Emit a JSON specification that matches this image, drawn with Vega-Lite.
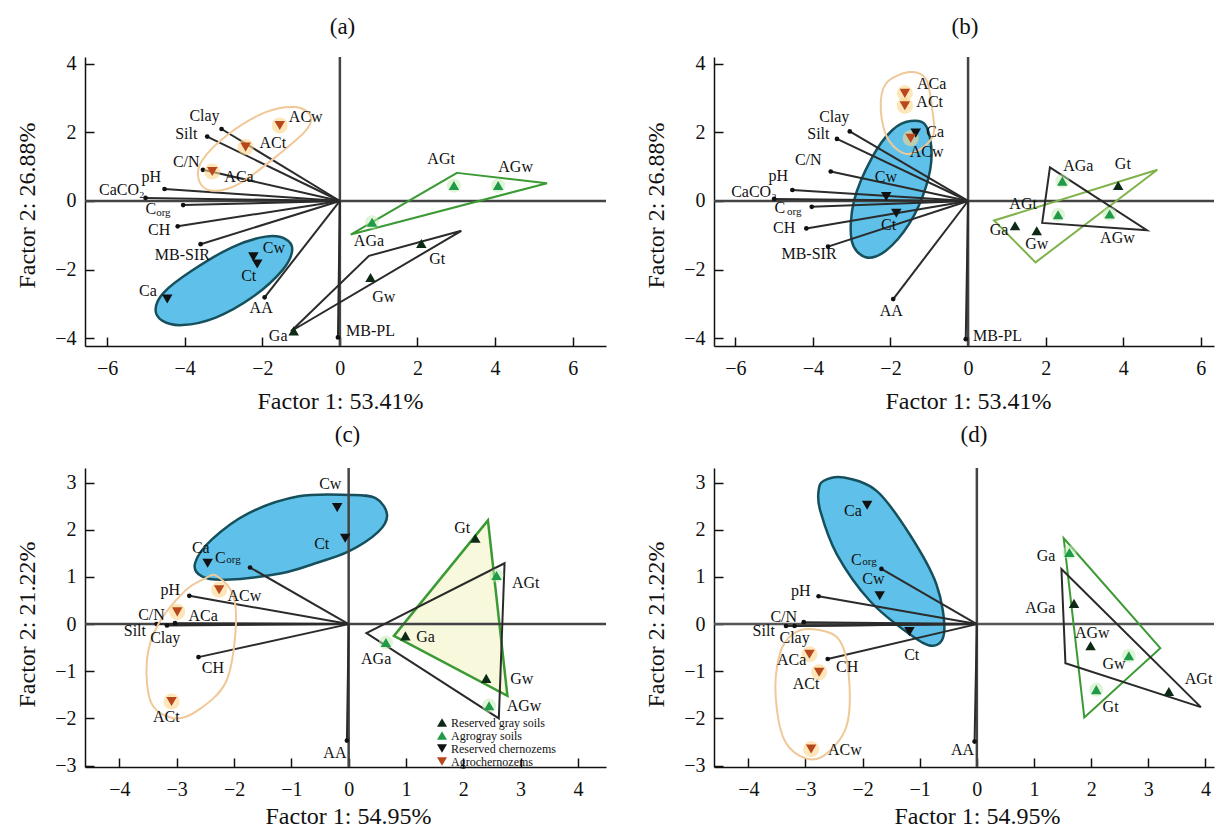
{
"$schema": "https://vega.github.io/schema/vega-lite/v6.json",
"padding": {"left": 15, "top": 15, "right": 0, "bottom": 0},
"background": "white",
"columns": 2,
"spacing": {"row": 122, "column": 108},
"bounds": "flush",
"resolve": {"scale": {"color": "independent", "shape": "independent"}, "legend": {"color": "independent", "shape": "independent"}},
"datasets": {
"vec": [
{"p":"a","label":"Clay","x":-3.05,"y":2.10,"lx":-3.49,"ly":2.49},
{"p":"a","label":"Silt","x":-3.42,"y":1.88,"lx":-3.96,"ly":1.96},
{"p":"a","label":"C/N","x":-3.53,"y":0.91,"lx":-3.96,"ly":1.15},
{"p":"a","label":"pH","x":-4.52,"y":0.35,"lx":-4.86,"ly":0.71},
{"p":"a","label":"CaCO₂","x":-5.01,"y":0.09,"lx":-5.62,"ly":0.32},
{"p":"a","label":"C","x":-4.04,"y":-0.12,"lx":-4.87,"ly":-0.22},
{"p":"a","label":"CH","x":-4.18,"y":-0.74,"lx":-4.66,"ly":-0.84},
{"p":"a","label":"MB-SIR","x":-3.59,"y":-1.26,"lx":-4.06,"ly":-1.57},
{"p":"a","label":"AA","x":-1.94,"y":-2.81,"lx":-2.03,"ly":-3.13},
{"p":"a","label":"MB-PL","x":-0.05,"y":-3.98,"lx":0.79,"ly":-3.79},
{"p":"b","label":"Clay","x":-3.05,"y":2.03,"lx":-3.45,"ly":2.44},
{"p":"b","label":"Silt","x":-3.38,"y":1.81,"lx":-3.86,"ly":1.96},
{"p":"b","label":"C/N","x":-3.54,"y":0.86,"lx":-4.12,"ly":1.2},
{"p":"b","label":"pH","x":-4.53,"y":0.32,"lx":-4.89,"ly":0.74},
{"p":"b","label":"CaCO₂","x":-5.0,"y":0.06,"lx":-5.52,"ly":0.27},
{"p":"b","label":"C","x":-4.03,"y":-0.17,"lx":-4.85,"ly":-0.2},
{"p":"b","label":"CH","x":-4.17,"y":-0.8,"lx":-4.74,"ly":-0.79},
{"p":"b","label":"MB-SIR","x":-3.61,"y":-1.33,"lx":-4.1,"ly":-1.55},
{"p":"b","label":"AA","x":-1.93,"y":-2.86,"lx":-1.98,"ly":-3.2},
{"p":"b","label":"MB-PL","x":-0.06,"y":-4.03,"lx":0.76,"ly":-3.95},
{"p":"c","label":"C","x":-1.72,"y":1.2,"lx":-2.24,"ly":1.41},
{"p":"c","label":"pH","x":-2.78,"y":0.6,"lx":-3.11,"ly":0.73},
{"p":"c","label":"C/N","x":-3.03,"y":0.02,"lx":-3.44,"ly":0.2},
{"p":"c","label":"Silt","x":-3.35,"y":0.0,"lx":-3.73,"ly":-0.14},
{"p":"c","label":"Clay","x":-3.17,"y":-0.03,"lx":-3.2,"ly":-0.3},
{"p":"c","label":"CH","x":-2.62,"y":-0.7,"lx":-2.37,"ly":-0.93},
{"p":"c","label":"AA","x":-0.03,"y":-2.47,"lx":-0.24,"ly":-2.73},
{"p":"d","label":"C","x":-1.67,"y":1.17,"lx":-2.11,"ly":1.36},
{"p":"d","label":"pH","x":-2.77,"y":0.59,"lx":-3.08,"ly":0.71},
{"p":"d","label":"C/N","x":-3.03,"y":0.04,"lx":-3.38,"ly":0.16},
{"p":"d","label":"Clay","x":-3.19,"y":-0.04,"lx":-3.19,"ly":-0.3},
{"p":"d","label":"Silt","x":-3.34,"y":-0.04,"lx":-3.73,"ly":-0.15},
{"p":"d","label":"CH","x":-2.61,"y":-0.74,"lx":-2.27,"ly":-0.9},
{"p":"d","label":"AA","x":-0.04,"y":-2.49,"lx":-0.25,"ly":-2.68}
],
"sub": [
{"p":"a","t":"org","x":-4.55,"y":-0.35},
{"p":"b","t":"org","x":-4.48,"y":-0.33},
{"p":"c","t":"org","x":-2.01,"y":1.36},
{"p":"d","t":"org","x":-1.88,"y":1.31}
],
"s": [
{"p":"a","name":"ACw","group":"Agrochernozems","x":-1.55,"y":2.2,"lx":-0.88,"ly":2.46},
{"p":"a","name":"ACt","group":"Agrochernozems","x":-2.43,"y":1.57,"lx":-1.73,"ly":1.68},
{"p":"a","name":"ACa","group":"Agrochernozems","x":-3.29,"y":0.86,"lx":-2.6,"ly":0.69},
{"p":"a","name":"Cw","group":"Reserved chernozems","x":-2.23,"y":-1.63,"lx":-1.7,"ly":-1.37},
{"p":"a","name":"Ct","group":"Reserved chernozems","x":-2.13,"y":-1.84,"lx":-2.35,"ly":-2.2},
{"p":"a","name":"Ca","group":"Reserved chernozems","x":-4.45,"y":-2.86,"lx":-4.95,"ly":-2.62},
{"p":"a","name":"Ga","group":"Reserved gray soils","x":-1.19,"y":-3.79,"lx":-1.59,"ly":-3.95},
{"p":"a","name":"AGt","group":"Agrogray soils","x":2.94,"y":0.45,"lx":2.61,"ly":1.23},
{"p":"a","name":"AGw","group":"Agrogray soils","x":4.08,"y":0.45,"lx":4.53,"ly":1.0},
{"p":"a","name":"AGa","group":"Agrogray soils","x":0.83,"y":-0.62,"lx":0.75,"ly":-1.16},
{"p":"a","name":"Gt","group":"Reserved gray soils","x":2.1,"y":-1.24,"lx":2.51,"ly":-1.69},
{"p":"a","name":"Gw","group":"Reserved gray soils","x":0.79,"y":-2.23,"lx":1.13,"ly":-2.81},
{"p":"b","name":"ACa","group":"Agrochernozems","x":-1.63,"y":3.14,"lx":-0.94,"ly":3.42},
{"p":"b","name":"ACt","group":"Agrochernozems","x":-1.63,"y":2.78,"lx":-0.99,"ly":2.88},
{"p":"b","name":"Ca","group":"Reserved chernozems","x":-1.35,"y":1.98,"lx":-0.85,"ly":2.02},
{"p":"b","name":"ACw","group":"Agrochernozems","x":-1.48,"y":1.83,"lx":-1.07,"ly":1.42},
{"p":"b","name":"Cw","group":"Reserved chernozems","x":-2.11,"y":0.13,"lx":-2.12,"ly":0.71},
{"p":"b","name":"Ct","group":"Reserved chernozems","x":-1.85,"y":-0.36,"lx":-2.05,"ly":-0.69},
{"p":"b","name":"AGa","group":"Agrogray soils","x":2.43,"y":0.58,"lx":2.84,"ly":1.03},
{"p":"b","name":"Gt","group":"Reserved gray soils","x":3.87,"y":0.45,"lx":3.99,"ly":1.08},
{"p":"b","name":"AGt","group":"Agrogray soils","x":2.32,"y":-0.4,"lx":1.42,"ly":-0.09},
{"p":"b","name":"AGw","group":"Agrogray soils","x":3.65,"y":-0.38,"lx":3.85,"ly":-1.08},
{"p":"b","name":"Ga","group":"Reserved gray soils","x":1.21,"y":-0.72,"lx":0.8,"ly":-0.85},
{"p":"b","name":"Gw","group":"Reserved gray soils","x":1.77,"y":-0.87,"lx":1.77,"ly":-1.26},
{"p":"c","name":"Cw","group":"Reserved chernozems","x":-0.2,"y":2.47,"lx":-0.32,"ly":2.97},
{"p":"c","name":"Ct","group":"Reserved chernozems","x":-0.06,"y":1.82,"lx":-0.47,"ly":1.7},
{"p":"c","name":"Ca","group":"Reserved chernozems","x":-2.46,"y":1.29,"lx":-2.58,"ly":1.61},
{"p":"c","name":"ACw","group":"Agrochernozems","x":-2.26,"y":0.73,"lx":-1.82,"ly":0.6},
{"p":"c","name":"ACa","group":"Agrochernozems","x":-2.99,"y":0.26,"lx":-2.54,"ly":0.18},
{"p":"c","name":"ACt","group":"Agrochernozems","x":-3.09,"y":-1.64,"lx":-3.18,"ly":-1.98},
{"p":"c","name":"Gt","group":"Reserved gray soils","x":2.21,"y":1.82,"lx":1.98,"ly":2.04},
{"p":"c","name":"AGt","group":"Agrogray soils","x":2.58,"y":1.03,"lx":3.09,"ly":0.88},
{"p":"c","name":"Ga","group":"Reserved gray soils","x":0.99,"y":-0.25,"lx":1.34,"ly":-0.27},
{"p":"c","name":"AGa","group":"Agrogray soils","x":0.65,"y":-0.39,"lx":0.48,"ly":-0.73},
{"p":"c","name":"Gw","group":"Reserved gray soils","x":2.4,"y":-1.15,"lx":3.02,"ly":-1.16},
{"p":"c","name":"AGw","group":"Agrogray soils","x":2.45,"y":-1.73,"lx":3.06,"ly":-1.74},
{"p":"d","name":"Ca","group":"Reserved chernozems","x":-1.92,"y":2.52,"lx":-2.17,"ly":2.4},
{"p":"d","name":"Cw","group":"Reserved chernozems","x":-1.7,"y":0.6,"lx":-1.81,"ly":0.95},
{"p":"d","name":"Ct","group":"Reserved chernozems","x":-1.18,"y":-0.16,"lx":-1.14,"ly":-0.65},
{"p":"d","name":"ACa","group":"Agrochernozems","x":-2.93,"y":-0.64,"lx":-3.24,"ly":-0.76},
{"p":"d","name":"ACt","group":"Agrochernozems","x":-2.76,"y":-1.02,"lx":-2.99,"ly":-1.26},
{"p":"d","name":"ACw","group":"Agrochernozems","x":-2.9,"y":-2.65,"lx":-2.31,"ly":-2.67},
{"p":"d","name":"Ga","group":"Agrogray soils","x":1.62,"y":1.52,"lx":1.21,"ly":1.45},
{"p":"d","name":"AGa","group":"Reserved gray soils","x":1.7,"y":0.44,"lx":1.11,"ly":0.35},
{"p":"d","name":"AGw","group":"Reserved gray soils","x":1.99,"y":-0.46,"lx":2.02,"ly":-0.18},
{"p":"d","name":"Gw","group":"Agrogray soils","x":2.66,"y":-0.67,"lx":2.4,"ly":-0.85},
{"p":"d","name":"Gt","group":"Agrogray soils","x":2.09,"y":-1.39,"lx":2.34,"ly":-1.76},
{"p":"d","name":"AGt","group":"Reserved gray soils","x":3.36,"y":-1.43,"lx":3.88,"ly":-1.17}
],
"poly": [
{"p":"a","g":"agrogray","i":1,"x":3.02,"y":0.82},{"p":"a","g":"agrogray","i":2,"x":5.34,"y":0.52},{"p":"a","g":"agrogray","i":3,"x":0.28,"y":-0.98},
{"p":"a","g":"gray","i":1,"x":-1.26,"y":-3.8},{"p":"a","g":"gray","i":2,"x":0.75,"y":-1.6},{"p":"a","g":"gray","i":3,"x":3.13,"y":-0.87},
{"p":"b","g":"agrogray","i":1,"x":2.11,"y":0.98},{"p":"b","g":"agrogray","i":2,"x":4.61,"y":-0.85},{"p":"b","g":"agrogray","i":3,"x":1.91,"y":-0.64},
{"p":"b","g":"gray","i":1,"x":4.88,"y":0.91},{"p":"b","g":"gray","i":2,"x":0.67,"y":-0.57},{"p":"b","g":"gray","i":3,"x":1.74,"y":-1.79},
{"p":"c","g":"gray","i":1,"x":2.43,"y":2.2},{"p":"c","g":"gray","i":2,"x":0.79,"y":-0.25},{"p":"c","g":"gray","i":3,"x":2.77,"y":-1.52},
{"p":"c","g":"agrogray","i":1,"x":2.72,"y":1.29},{"p":"c","g":"agrogray","i":2,"x":0.31,"y":-0.19},{"p":"c","g":"agrogray","i":3,"x":2.62,"y":-2.0},
{"p":"d","g":"gray","i":1,"x":1.52,"y":1.82},{"p":"d","g":"gray","i":2,"x":3.21,"y":-0.51},{"p":"d","g":"gray","i":3,"x":1.88,"y":-1.98},
{"p":"d","g":"agrogray","i":1,"x":1.48,"y":1.17},{"p":"d","g":"agrogray","i":2,"x":3.92,"y":-1.76},{"p":"d","g":"agrogray","i":3,"x":1.55,"y":-0.83}
],
"ell": [
{"p":"a","e":"chern","i":1,"x":-4.75,"y":-3.15},{"p":"a","e":"chern","i":2,"x":-4.58,"y":-3.49},{"p":"a","e":"chern","i":3,"x":-4.06,"y":-3.62},{"p":"a","e":"chern","i":4,"x":-3.2,"y":-3.4},{"p":"a","e":"chern","i":5,"x":-2.26,"y":-2.81},{"p":"a","e":"chern","i":6,"x":-1.49,"y":-2.03},{"p":"a","e":"chern","i":7,"x":-1.23,"y":-1.45},{"p":"a","e":"chern","i":8,"x":-1.4,"y":-1.11},{"p":"a","e":"chern","i":9,"x":-1.91,"y":-1.04},{"p":"a","e":"chern","i":10,"x":-2.78,"y":-1.35},{"p":"a","e":"chern","i":11,"x":-3.81,"y":-2.03},{"p":"a","e":"chern","i":12,"x":-4.54,"y":-2.67},
{"p":"a","e":"agrochern","i":1,"x":-3.63,"y":0.59},{"p":"a","e":"agrochern","i":2,"x":-3.29,"y":0.3},{"p":"a","e":"agrochern","i":3,"x":-2.6,"y":0.5},{"p":"a","e":"agrochern","i":4,"x":-1.66,"y":1.28},{"p":"a","e":"agrochern","i":5,"x":-0.88,"y":2.05},{"p":"a","e":"agrochern","i":6,"x":-0.76,"y":2.49},{"p":"a","e":"agrochern","i":7,"x":-1.14,"y":2.74},{"p":"a","e":"agrochern","i":8,"x":-1.91,"y":2.59},{"p":"a","e":"agrochern","i":9,"x":-2.86,"y":1.96},{"p":"a","e":"agrochern","i":10,"x":-3.55,"y":1.18},
{"p":"b","e":"chern","i":1,"x":-1.48,"y":2.33},{"p":"b","e":"chern","i":2,"x":-1.09,"y":2.2},{"p":"b","e":"chern","i":3,"x":-0.94,"y":1.37},{"p":"b","e":"chern","i":4,"x":-1.09,"y":0.4},{"p":"b","e":"chern","i":5,"x":-1.52,"y":-0.67},{"p":"b","e":"chern","i":6,"x":-2.12,"y":-1.45},{"p":"b","e":"chern","i":7,"x":-2.64,"y":-1.64},{"p":"b","e":"chern","i":8,"x":-3.0,"y":-1.16},{"p":"b","e":"chern","i":9,"x":-2.94,"y":0.01},{"p":"b","e":"chern","i":10,"x":-2.47,"y":1.28},{"p":"b","e":"chern","i":11,"x":-1.95,"y":2.07},
{"p":"b","e":"agrochern","i":1,"x":-1.52,"y":3.76},{"p":"b","e":"agrochern","i":2,"x":-1.09,"y":3.56},{"p":"b","e":"agrochern","i":3,"x":-0.92,"y":2.64},{"p":"b","e":"agrochern","i":4,"x":-0.92,"y":1.86},{"p":"b","e":"agrochern","i":5,"x":-1.52,"y":1.37},{"p":"b","e":"agrochern","i":6,"x":-2.04,"y":1.76},{"p":"b","e":"agrochern","i":7,"x":-2.25,"y":2.64},{"p":"b","e":"agrochern","i":8,"x":-2.12,"y":3.42},
{"p":"c","e":"chern","i":1,"x":-2.68,"y":1.29},{"p":"c","e":"chern","i":2,"x":-2.56,"y":1.01},{"p":"c","e":"chern","i":3,"x":-2.15,"y":0.94},{"p":"c","e":"chern","i":4,"x":-1.17,"y":1.08},{"p":"c","e":"chern","i":5,"x":-0.58,"y":1.29},{"p":"c","e":"chern","i":6,"x":0.0,"y":1.54},{"p":"c","e":"chern","i":7,"x":0.52,"y":1.96},{"p":"c","e":"chern","i":8,"x":0.67,"y":2.32},{"p":"c","e":"chern","i":9,"x":0.47,"y":2.67},{"p":"c","e":"chern","i":10,"x":0.0,"y":2.74},{"p":"c","e":"chern","i":11,"x":-0.87,"y":2.71},{"p":"c","e":"chern","i":12,"x":-1.75,"y":2.35},{"p":"c","e":"chern","i":13,"x":-2.39,"y":1.79},
{"p":"c","e":"agrochern","i":1,"x":-2.3,"y":1.02},{"p":"c","e":"agrochern","i":2,"x":-2.01,"y":0.59},{"p":"c","e":"agrochern","i":3,"x":-1.98,"y":-0.26},{"p":"c","e":"agrochern","i":4,"x":-2.15,"y":-1.25},{"p":"c","e":"agrochern","i":5,"x":-2.62,"y":-1.82},{"p":"c","e":"agrochern","i":6,"x":-3.03,"y":-2.0},{"p":"c","e":"agrochern","i":7,"x":-3.44,"y":-1.68},{"p":"c","e":"agrochern","i":8,"x":-3.52,"y":-0.77},{"p":"c","e":"agrochern","i":9,"x":-3.32,"y":0.0},{"p":"c","e":"agrochern","i":10,"x":-2.85,"y":0.71},{"p":"c","e":"agrochern","i":11,"x":-2.5,"y":0.97},
{"p":"d","e":"chern","i":1,"x":-2.68,"y":3.04},{"p":"d","e":"chern","i":2,"x":-2.33,"y":3.11},{"p":"d","e":"chern","i":3,"x":-1.75,"y":2.82},{"p":"d","e":"chern","i":4,"x":-1.18,"y":1.91},{"p":"d","e":"chern","i":5,"x":-0.71,"y":0.85},{"p":"d","e":"chern","i":6,"x":-0.57,"y":-0.14},{"p":"d","e":"chern","i":7,"x":-0.77,"y":-0.46},{"p":"d","e":"chern","i":8,"x":-1.18,"y":-0.21},{"p":"d","e":"chern","i":9,"x":-1.87,"y":0.49},{"p":"d","e":"chern","i":10,"x":-2.45,"y":1.48},{"p":"d","e":"chern","i":11,"x":-2.74,"y":2.4},{"p":"d","e":"chern","i":12,"x":-2.77,"y":2.82},
{"p":"d","e":"agrochern","i":1,"x":-2.86,"y":-0.11},{"p":"d","e":"agrochern","i":2,"x":-2.4,"y":-0.35},{"p":"d","e":"agrochern","i":3,"x":-2.23,"y":-1.27},{"p":"d","e":"agrochern","i":4,"x":-2.31,"y":-2.26},{"p":"d","e":"agrochern","i":5,"x":-2.81,"y":-2.86},{"p":"d","e":"agrochern","i":6,"x":-3.33,"y":-2.54},{"p":"d","e":"agrochern","i":7,"x":-3.52,"y":-1.55},{"p":"d","e":"agrochern","i":8,"x":-3.45,"y":-0.64},{"p":"d","e":"agrochern","i":9,"x":-3.22,"y":-0.21}
]
},
"concat": [
{
"width": 521, "height": 289,
"title": {"text": "(a)", "offset": 15, "dx": -3},
"layer": [
{"data":{"name":"ell"},"transform":[{"filter":"datum.p=='a' && datum.e=='chern'"}],"mark":{"type":"line","interpolate":"cardinal-closed","fill":"#5fc1e9","stroke":"#16505d","strokeWidth":2.5},
 "encoding":{"x":{"field":"x","type":"quantitative","scale":{"domain":[-6.57,6.86],"nice":false,"zero":false},"axis":{"values":[-6,-4,-2,0,2,4,6],"format":"d","title":"Factor 1: 53.41%","titleX":255,"titleY":62,"titleBaseline":"alphabetic","titleAlign":"center"}},
 "y":{"field":"y","type":"quantitative","scale":{"domain":[-4.23,4.2],"nice":false,"zero":false},"axis":{"values":[-4,-3,-2,-1,0,1,2,3,4],"format":"d","title":"Factor 2: 26.88%","titleX":-51,"titleY":148,"titleAngle":270,"titleBaseline":"alphabetic","titleAlign":"center"}},
 "order":{"field":"i","type":"quantitative"}}},
{"data":{"values":[{}]},"mark":{"type":"rule","color":"#444","strokeWidth":2.5},"encoding":{"y":{"datum":0,"type":"quantitative"}}},
{"data":{"values":[{}]},"mark":{"type":"rule","color":"#444","strokeWidth":2.5},"encoding":{"x":{"datum":0,"type":"quantitative"}}},
{"data":{"name":"vec"},"transform":[{"filter":"datum.p=='a'"}],"mark":{"type":"rule","color":"#2b2b2b","strokeWidth":2},"encoding":{"x":{"field":"x","type":"quantitative"},"y":{"field":"y","type":"quantitative"},"x2":{"datum":0},"y2":{"datum":0}}},
{"data":{"name":"vec"},"transform":[{"filter":"datum.p=='a'"}],"mark":{"type":"point","filled":true,"color":"#111","size":22,"opacity":1},"encoding":{"x":{"field":"x","type":"quantitative"},"y":{"field":"y","type":"quantitative"}}},
{"data":{"name":"ell"},"transform":[{"filter":"datum.p=='a' && datum.e=='agrochern'"}],"mark":{"type":"line","interpolate":"cardinal-closed","stroke":"#f0c898","strokeWidth":2},"encoding":{"x":{"field":"x","type":"quantitative"},"y":{"field":"y","type":"quantitative"},"order":{"field":"i","type":"quantitative"}}},
{"data":{"name":"poly"},"transform":[{"filter":"datum.p=='a' && datum.g=='agrogray'"}],"mark":{"type":"line","interpolate":"linear-closed","stroke":"#3c9a35","strokeWidth":2},"encoding":{"x":{"field":"x","type":"quantitative"},"y":{"field":"y","type":"quantitative"},"order":{"field":"i","type":"quantitative"}}},
{"data":{"name":"poly"},"transform":[{"filter":"datum.p=='a' && datum.g=='gray'"}],"mark":{"type":"line","interpolate":"linear-closed","stroke":"#2a2a2a","strokeWidth":2},"encoding":{"x":{"field":"x","type":"quantitative"},"y":{"field":"y","type":"quantitative"},"order":{"field":"i","type":"quantitative"}}},
{"data":{"name":"s"},"transform":[{"filter":"datum.p=='a' && datum.group=='Agrochernozems'"}],"mark":{"type":"point","filled":true,"color":"#fbd68a","size":260,"opacity":0.6},"encoding":{"x":{"field":"x","type":"quantitative"},"y":{"field":"y","type":"quantitative"}}},
{"data":{"name":"s"},"transform":[{"filter":"datum.p=='a' && datum.group=='Agrogray soils'"}],"mark":{"type":"point","filled":true,"color":"#c2ecb2","size":200,"opacity":0.5},"encoding":{"x":{"field":"x","type":"quantitative"},"y":{"field":"y","type":"quantitative"}}},
{"data":{"name":"s"},"transform":[{"filter":"datum.p=='a'"}],"mark":{"type":"point","filled":true,"size":110,"opacity":1},"encoding":{"x":{"field":"x","type":"quantitative"},"y":{"field":"y","type":"quantitative"},
 "color":{"field":"group","type":"nominal","scale":{"domain":["Reserved gray soils","Agrogray soils","Reserved chernozems","Agrochernozems"],"range":["#0d2a16","#1f9a48","#111111","#b9471c"]},"legend":null},
 "shape":{"field":"group","type":"nominal","scale":{"domain":["Reserved gray soils","Agrogray soils","Reserved chernozems","Agrochernozems"],"range":["triangle-up","triangle-up","triangle-down","triangle-down"]},"legend":null}}},
{"data":{"name":"vec"},"transform":[{"filter":"datum.p=='a'"}],"mark":{"type":"text"},"encoding":{"x":{"field":"lx","type":"quantitative"},"y":{"field":"ly","type":"quantitative"},"text":{"field":"label"}}},
{"data":{"name":"s"},"transform":[{"filter":"datum.p=='a'"}],"mark":{"type":"text"},"encoding":{"x":{"field":"lx","type":"quantitative"},"y":{"field":"ly","type":"quantitative"},"text":{"field":"name"}}},
{"data":{"name":"sub"},"transform":[{"filter":"datum.p=='a'"}],"mark":{"type":"text","fontSize":11},"encoding":{"x":{"field":"x","type":"quantitative"},"y":{"field":"y","type":"quantitative"},"text":{"field":"t"}}}
]
},
{
"width": 500, "height": 289,
"title": {"text": "(b)", "offset": 15, "dx": 1},
"layer": [
{"data":{"name":"ell"},"transform":[{"filter":"datum.p=='b' && datum.e=='chern'"}],"mark":{"type":"line","interpolate":"cardinal-closed","fill":"#5fc1e9","stroke":"#16505d","strokeWidth":2.5},
 "encoding":{"x":{"field":"x","type":"quantitative","scale":{"domain":[-6.55,6.34],"nice":false,"zero":false},"axis":{"values":[-6,-4,-2,0,2,4,6],"format":"d","title":"Factor 1: 53.41%","titleX":254,"titleY":62,"titleBaseline":"alphabetic","titleAlign":"center"}},
 "y":{"field":"y","type":"quantitative","scale":{"domain":[-4.23,4.2],"nice":false,"zero":false},"axis":{"values":[-4,-3,-2,-1,0,1,2,3,4],"format":"d","title":"Factor 2: 26.88%","titleX":-51,"titleY":148,"titleAngle":270,"titleBaseline":"alphabetic","titleAlign":"center"}},
 "order":{"field":"i","type":"quantitative"}}},
{"data":{"values":[{}]},"mark":{"type":"rule","color":"#444","strokeWidth":2.5},"encoding":{"y":{"datum":0,"type":"quantitative"}}},
{"data":{"values":[{}]},"mark":{"type":"rule","color":"#444","strokeWidth":2.5},"encoding":{"x":{"datum":0,"type":"quantitative"}}},
{"data":{"name":"vec"},"transform":[{"filter":"datum.p=='b'"}],"mark":{"type":"rule","color":"#2b2b2b","strokeWidth":2},"encoding":{"x":{"field":"x","type":"quantitative"},"y":{"field":"y","type":"quantitative"},"x2":{"datum":0},"y2":{"datum":0}}},
{"data":{"name":"vec"},"transform":[{"filter":"datum.p=='b'"}],"mark":{"type":"point","filled":true,"color":"#111","size":22,"opacity":1},"encoding":{"x":{"field":"x","type":"quantitative"},"y":{"field":"y","type":"quantitative"}}},
{"data":{"name":"ell"},"transform":[{"filter":"datum.p=='b' && datum.e=='agrochern'"}],"mark":{"type":"line","interpolate":"cardinal-closed","stroke":"#f0c898","strokeWidth":2},"encoding":{"x":{"field":"x","type":"quantitative"},"y":{"field":"y","type":"quantitative"},"order":{"field":"i","type":"quantitative"}}},
{"data":{"name":"poly"},"transform":[{"filter":"datum.p=='b' && datum.g=='gray'"}],"mark":{"type":"line","interpolate":"linear-closed","stroke":"#7fb24a","strokeWidth":2},"encoding":{"x":{"field":"x","type":"quantitative"},"y":{"field":"y","type":"quantitative"},"order":{"field":"i","type":"quantitative"}}},
{"data":{"name":"poly"},"transform":[{"filter":"datum.p=='b' && datum.g=='agrogray'"}],"mark":{"type":"line","interpolate":"linear-closed","stroke":"#2a2a2a","strokeWidth":2},"encoding":{"x":{"field":"x","type":"quantitative"},"y":{"field":"y","type":"quantitative"},"order":{"field":"i","type":"quantitative"}}},
{"data":{"name":"s"},"transform":[{"filter":"datum.p=='b' && datum.group=='Agrochernozems'"}],"mark":{"type":"point","filled":true,"color":"#fbd68a","size":260,"opacity":0.6},"encoding":{"x":{"field":"x","type":"quantitative"},"y":{"field":"y","type":"quantitative"}}},
{"data":{"name":"s"},"transform":[{"filter":"datum.p=='b' && datum.group=='Agrogray soils'"}],"mark":{"type":"point","filled":true,"color":"#c2ecb2","size":200,"opacity":0.5},"encoding":{"x":{"field":"x","type":"quantitative"},"y":{"field":"y","type":"quantitative"}}},
{"data":{"name":"s"},"transform":[{"filter":"datum.p=='b'"}],"mark":{"type":"point","filled":true,"size":110,"opacity":1},"encoding":{"x":{"field":"x","type":"quantitative"},"y":{"field":"y","type":"quantitative"},
 "color":{"field":"group","type":"nominal","scale":{"domain":["Reserved gray soils","Agrogray soils","Reserved chernozems","Agrochernozems"],"range":["#0d2a16","#1f9a48","#111111","#b9471c"]},"legend":null},
 "shape":{"field":"group","type":"nominal","scale":{"domain":["Reserved gray soils","Agrogray soils","Reserved chernozems","Agrochernozems"],"range":["triangle-up","triangle-up","triangle-down","triangle-down"]},"legend":null}}},
{"data":{"name":"vec"},"transform":[{"filter":"datum.p=='b'"}],"mark":{"type":"text"},"encoding":{"x":{"field":"lx","type":"quantitative"},"y":{"field":"ly","type":"quantitative"},"text":{"field":"label"}}},
{"data":{"name":"s"},"transform":[{"filter":"datum.p=='b'"}],"mark":{"type":"text"},"encoding":{"x":{"field":"lx","type":"quantitative"},"y":{"field":"ly","type":"quantitative"},"text":{"field":"name"}}},
{"data":{"name":"sub"},"transform":[{"filter":"datum.p=='b'"}],"mark":{"type":"text","fontSize":11},"encoding":{"x":{"field":"x","type":"quantitative"},"y":{"field":"y","type":"quantitative"},"text":{"field":"t"}}}
]
},
{
"width": 521, "height": 299,
"title": {"text": "(c)", "offset": 20, "dx": 2},
"layer": [
{"data":{"name":"ell"},"transform":[{"filter":"datum.p=='c' && datum.e=='chern'"}],"mark":{"type":"line","interpolate":"cardinal-closed","fill":"#5fc1e9","stroke":"#16505d","strokeWidth":2.5},
 "encoding":{"x":{"field":"x","type":"quantitative","scale":{"domain":[-4.6,4.49],"nice":false,"zero":false},"axis":{"values":[-4,-3,-2,-1,0,1,2,3,4],"format":"d","title":"Factor 1: 54.95%","titleX":263,"titleY":56,"titleBaseline":"alphabetic","titleAlign":"center"}},
 "y":{"field":"y","type":"quantitative","scale":{"domain":[-3.03,3.31],"nice":false,"zero":false},"axis":{"values":[-3,-2,-1,0,1,2,3],"format":"d","title":"Factor 2: 21.22%","titleX":-51,"titleY":156,"titleAngle":270,"titleBaseline":"alphabetic","titleAlign":"center"}},
 "order":{"field":"i","type":"quantitative"}}},
{"data":{"name":"poly"},"transform":[{"filter":"datum.p=='c' && datum.g=='gray'"}],"mark":{"type":"line","interpolate":"linear-closed","fill":"#f7f8dc","stroke":"#3c9a35","strokeWidth":2.5},"encoding":{"x":{"field":"x","type":"quantitative"},"y":{"field":"y","type":"quantitative"},"order":{"field":"i","type":"quantitative"}}},
{"data":{"values":[{}]},"mark":{"type":"rule","color":"#444","strokeWidth":2.5},"encoding":{"y":{"datum":0,"type":"quantitative"}}},
{"data":{"values":[{}]},"mark":{"type":"rule","color":"#444","strokeWidth":2.5},"encoding":{"x":{"datum":0,"type":"quantitative"}}},
{"data":{"name":"vec"},"transform":[{"filter":"datum.p=='c'"}],"mark":{"type":"rule","color":"#2b2b2b","strokeWidth":2},"encoding":{"x":{"field":"x","type":"quantitative"},"y":{"field":"y","type":"quantitative"},"x2":{"datum":0},"y2":{"datum":0}}},
{"data":{"name":"vec"},"transform":[{"filter":"datum.p=='c'"}],"mark":{"type":"point","filled":true,"color":"#111","size":22,"opacity":1},"encoding":{"x":{"field":"x","type":"quantitative"},"y":{"field":"y","type":"quantitative"}}},
{"data":{"name":"ell"},"transform":[{"filter":"datum.p=='c' && datum.e=='agrochern'"}],"mark":{"type":"line","interpolate":"cardinal-closed","stroke":"#f0c898","strokeWidth":2},"encoding":{"x":{"field":"x","type":"quantitative"},"y":{"field":"y","type":"quantitative"},"order":{"field":"i","type":"quantitative"}}},
{"data":{"name":"poly"},"transform":[{"filter":"datum.p=='c' && datum.g=='agrogray'"}],"mark":{"type":"line","interpolate":"linear-closed","stroke":"#2a2a2a","strokeWidth":2},"encoding":{"x":{"field":"x","type":"quantitative"},"y":{"field":"y","type":"quantitative"},"order":{"field":"i","type":"quantitative"}}},
{"data":{"name":"s"},"transform":[{"filter":"datum.p=='c' && datum.group=='Agrochernozems'"}],"mark":{"type":"point","filled":true,"color":"#fbd68a","size":260,"opacity":0.6},"encoding":{"x":{"field":"x","type":"quantitative"},"y":{"field":"y","type":"quantitative"}}},
{"data":{"name":"s"},"transform":[{"filter":"datum.p=='c' && datum.group=='Agrogray soils'"}],"mark":{"type":"point","filled":true,"color":"#c2ecb2","size":200,"opacity":0.5},"encoding":{"x":{"field":"x","type":"quantitative"},"y":{"field":"y","type":"quantitative"}}},
{"data":{"name":"s"},"transform":[{"filter":"datum.p=='c'"}],"mark":{"type":"point","filled":true,"size":110,"opacity":1},"encoding":{"x":{"field":"x","type":"quantitative"},"y":{"field":"y","type":"quantitative"},
 "color":{"field":"group","type":"nominal","scale":{"domain":["Reserved gray soils","Agrogray soils","Reserved chernozems","Agrochernozems"],"range":["#0d2a16","#1f9a48","#111111","#b9471c"]},"legend":{"orient":"none","legendX":351,"legendY":249,"title":null,"labelFont":"Liberation Serif","labelFontSize":12,"labelColor":"#111","symbolSize":100,"rowPadding":0,"clipHeight":11,"labelOffset":3,"padding":0,"symbolStrokeWidth":0}},
 "shape":{"field":"group","type":"nominal","scale":{"domain":["Reserved gray soils","Agrogray soils","Reserved chernozems","Agrochernozems"],"range":["triangle-up","triangle-up","triangle-down","triangle-down"]},"legend":{"orient":"none","legendX":351,"legendY":249,"title":null,"labelFont":"Liberation Serif","labelFontSize":12,"labelColor":"#111","symbolSize":100,"rowPadding":0,"clipHeight":11,"labelOffset":3,"padding":0,"symbolStrokeWidth":0}}}},
{"data":{"name":"vec"},"transform":[{"filter":"datum.p=='c'"}],"mark":{"type":"text"},"encoding":{"x":{"field":"lx","type":"quantitative"},"y":{"field":"ly","type":"quantitative"},"text":{"field":"label"}}},
{"data":{"name":"s"},"transform":[{"filter":"datum.p=='c'"}],"mark":{"type":"text"},"encoding":{"x":{"field":"lx","type":"quantitative"},"y":{"field":"ly","type":"quantitative"},"text":{"field":"name"}}},
{"data":{"name":"sub"},"transform":[{"filter":"datum.p=='c'"}],"mark":{"type":"text","fontSize":11},"encoding":{"x":{"field":"x","type":"quantitative"},"y":{"field":"y","type":"quantitative"},"text":{"field":"t"}}}
]
},
{
"width": 500, "height": 299,
"title": {"text": "(d)", "offset": 20, "dx": 10},
"layer": [
{"data":{"name":"ell"},"transform":[{"filter":"datum.p=='d' && datum.e=='chern'"}],"mark":{"type":"line","interpolate":"cardinal-closed","fill":"#5fc1e9","stroke":"#16505d","strokeWidth":2.5},
 "encoding":{"x":{"field":"x","type":"quantitative","scale":{"domain":[-4.6,4.15],"nice":false,"zero":false},"axis":{"values":[-4,-3,-2,-1,0,1,2,3,4],"format":"d","title":"Factor 1: 54.95%","titleX":263,"titleY":56,"titleBaseline":"alphabetic","titleAlign":"center"}},
 "y":{"field":"y","type":"quantitative","scale":{"domain":[-3.03,3.31],"nice":false,"zero":false},"axis":{"values":[-3,-2,-1,0,1,2,3],"format":"d","title":"Factor 2: 21.22%","titleX":-51,"titleY":156,"titleAngle":270,"titleBaseline":"alphabetic","titleAlign":"center"}},
 "order":{"field":"i","type":"quantitative"}}},
{"data":{"values":[{}]},"mark":{"type":"rule","color":"#555","strokeWidth":2.5},"encoding":{"y":{"datum":0,"type":"quantitative"}}},
{"data":{"values":[{}]},"mark":{"type":"rule","color":"#444","strokeWidth":2.5},"encoding":{"x":{"datum":0,"type":"quantitative"}}},
{"data":{"name":"vec"},"transform":[{"filter":"datum.p=='d'"}],"mark":{"type":"rule","color":"#2b2b2b","strokeWidth":2},"encoding":{"x":{"field":"x","type":"quantitative"},"y":{"field":"y","type":"quantitative"},"x2":{"datum":0},"y2":{"datum":0}}},
{"data":{"name":"vec"},"transform":[{"filter":"datum.p=='d'"}],"mark":{"type":"point","filled":true,"color":"#111","size":22,"opacity":1},"encoding":{"x":{"field":"x","type":"quantitative"},"y":{"field":"y","type":"quantitative"}}},
{"data":{"name":"ell"},"transform":[{"filter":"datum.p=='d' && datum.e=='agrochern'"}],"mark":{"type":"line","interpolate":"cardinal-closed","stroke":"#f0c898","strokeWidth":2},"encoding":{"x":{"field":"x","type":"quantitative"},"y":{"field":"y","type":"quantitative"},"order":{"field":"i","type":"quantitative"}}},
{"data":{"name":"poly"},"transform":[{"filter":"datum.p=='d' && datum.g=='gray'"}],"mark":{"type":"line","interpolate":"linear-closed","stroke":"#3c9a35","strokeWidth":2},"encoding":{"x":{"field":"x","type":"quantitative"},"y":{"field":"y","type":"quantitative"},"order":{"field":"i","type":"quantitative"}}},
{"data":{"name":"poly"},"transform":[{"filter":"datum.p=='d' && datum.g=='agrogray'"}],"mark":{"type":"line","interpolate":"linear-closed","stroke":"#2a2a2a","strokeWidth":2},"encoding":{"x":{"field":"x","type":"quantitative"},"y":{"field":"y","type":"quantitative"},"order":{"field":"i","type":"quantitative"}}},
{"data":{"name":"s"},"transform":[{"filter":"datum.p=='d' && datum.group=='Agrochernozems'"}],"mark":{"type":"point","filled":true,"color":"#fbd68a","size":260,"opacity":0.6},"encoding":{"x":{"field":"x","type":"quantitative"},"y":{"field":"y","type":"quantitative"}}},
{"data":{"name":"s"},"transform":[{"filter":"datum.p=='d' && datum.group=='Agrogray soils'"}],"mark":{"type":"point","filled":true,"color":"#c2ecb2","size":200,"opacity":0.5},"encoding":{"x":{"field":"x","type":"quantitative"},"y":{"field":"y","type":"quantitative"}}},
{"data":{"name":"s"},"transform":[{"filter":"datum.p=='d'"}],"mark":{"type":"point","filled":true,"size":110,"opacity":1},"encoding":{"x":{"field":"x","type":"quantitative"},"y":{"field":"y","type":"quantitative"},
 "color":{"field":"group","type":"nominal","scale":{"domain":["Reserved gray soils","Agrogray soils","Reserved chernozems","Agrochernozems"],"range":["#0d2a16","#1f9a48","#111111","#b9471c"]},"legend":null},
 "shape":{"field":"group","type":"nominal","scale":{"domain":["Reserved gray soils","Agrogray soils","Reserved chernozems","Agrochernozems"],"range":["triangle-up","triangle-up","triangle-down","triangle-down"]},"legend":null}}},
{"data":{"name":"vec"},"transform":[{"filter":"datum.p=='d'"}],"mark":{"type":"text"},"encoding":{"x":{"field":"lx","type":"quantitative"},"y":{"field":"ly","type":"quantitative"},"text":{"field":"label"}}},
{"data":{"name":"s"},"transform":[{"filter":"datum.p=='d'"}],"mark":{"type":"text"},"encoding":{"x":{"field":"lx","type":"quantitative"},"y":{"field":"ly","type":"quantitative"},"text":{"field":"name"}}},
{"data":{"name":"sub"},"transform":[{"filter":"datum.p=='d'"}],"mark":{"type":"text","fontSize":11},"encoding":{"x":{"field":"x","type":"quantitative"},"y":{"field":"y","type":"quantitative"},"text":{"field":"t"}}}
]
}
],
"config": {
"font": "Liberation Serif",
"view": {"stroke": null},
"title": {"font": "Liberation Serif", "fontSize": 23, "fontWeight": "normal", "color": "#111", "anchor": "middle", "frame": "group"},
"axis": {"grid": false, "domainColor": "#111", "domainWidth": 1.5, "tickColor": "#111", "tickWidth": 1.5, "tickSize": -9, "labelFont": "Liberation Serif", "labelFontSize": 20, "labelColor": "#111", "titleFont": "Liberation Serif", "titleFontSize": 24, "titleFontWeight": "normal", "titleColor": "#111", "labelOverlap": false},
"axisX": {"labelPadding": 21},
"axisY": {"labelPadding": 18},
"text": {"font": "Liberation Serif", "fontSize": 16, "color": "#111"}
}
}
